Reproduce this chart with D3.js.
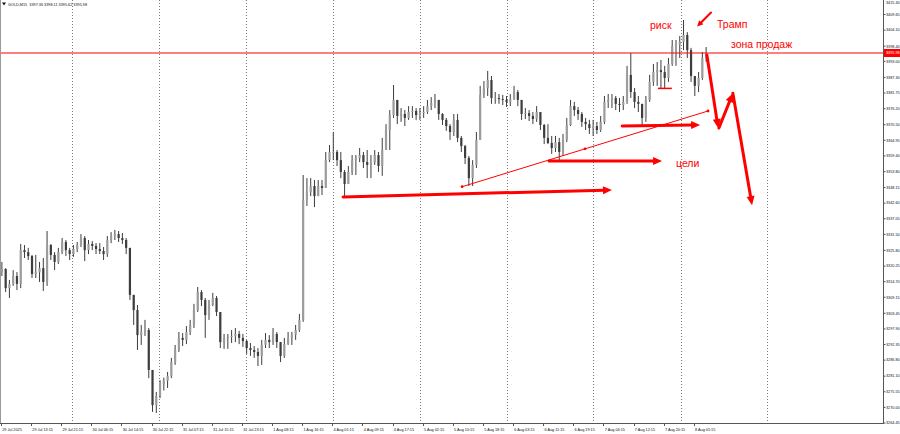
<!DOCTYPE html>
<html><head><meta charset="utf-8">
<script src="https://cdn.jsdelivr.net/npm/d3@7"></script>
<style>
html,body{margin:0;padding:0;background:#fff;}
svg{display:block;font-family:"Liberation Sans",Arial,sans-serif;}
</style></head><body>
<svg id="c" width="900" height="434"></svg>
<script>
// ---------- DATA ----------
const symbolHeader = "GOLD,M15  3397.36 3398.11 3395.62 3395.98";
const bidPrice = 3395.98;
const firstOpen = 3318.0;
const closes = [
3319.2,3312.4,3313.9,3316.7,3313.9,3325.9,3325.2,3323.8,3317.4,3318.0,
3319.5,3314.6,3327.7,3324.2,3321.7,3325.2,3328.8,3325.9,3324.5,3326.3,
3327.7,3330.2,3325.9,3328.1,3327.4,3326.3,3325.6,
3324.5,3329.5,3330.9,3331.6,3330.2,3329.5,3326.7,3310.0,3304.6,3295.7,
3296.8,3297.5,3283.3,3270.8,3274.0,3278.3,3279.5,
3281.2,3286.1,3290.4,3294.7,3294.0,3296.8,3299.3,3304.6,3311.0,3308.2,
3302.8,3306.4,3308.9,3303.9,3293.2,3294.7,3295.0,
3295.4,3296.1,3294.7,3293.6,3291.1,3290.4,3289.7,3288.3,3292.2,3294.0,
3293.2,3296.1,3293.2,3288.3,3292.5,3294.7,3295.8,
3297.5,3301.1,3343.7,3346.6,3348.7,3345.1,3348.7,3348.0,3357.9,3360.8,
3360.8,3357.9,3353.7,3349.4,3353.7,3357.9,3358.6,
3359.7,3357.2,3356.2,3357.2,3359.7,3355.8,3361.5,3368.6,3373.9,3379.3,
3373.6,3374.3,3372.9,3375.0,3375.4,3373.9,3374.6,
3375.0,3377.1,3378.2,3379.3,3374.3,3372.2,3370.0,3367.9,3372.2,3365.8,
3362.9,3358.7,3351.5,3356.2,3365.1,3381.1,3383.5,
3386.4,3380.0,3380.0,3379.6,3379.3,3378.6,3379.6,3382.1,3379.3,3374.3,
3374.6,3373.6,3372.5,3375.0,3370.4,3365.8,3364.0,
3362.2,3364.3,3360.8,3365.1,3370.4,3377.1,3375.7,3374.3,3371.5,3370.7,
3369.3,3370.0,3368.6,3371.5,3378.6,3379.3,3380.0,
3377.9,3377.5,3378.6,3388.2,3382.1,3378.6,3377.9,3372.9,3379.3,3385.7,
3389.2,3389.9,3389.2,3387.1,3392.1,3398.5,3399.0,
3399.9,3402.4,3397.0,3387.8,3384.3,3387.1,3394.2,3396.0];
const highs = [
3321.7,3319.5,3315.3,3318.8,3318.1,3328.1,3327.7,3326.7,3324.2,3324.2,
3321.7,3323.1,3332.7,3328.1,3325.2,3326.7,3330.2,3329.5,3326.7,3327.7,
3328.8,3331.6,3330.9,3329.5,3329.1,3328.4,3328.4,
3327.0,3330.9,3332.3,3333.1,3332.7,3332.0,3330.2,3325.9,3309.6,3306.4,
3299.3,3301.1,3298.2,3283.3,3275.5,3279.7,3280.6,
3282.6,3287.6,3292.2,3296.8,3296.4,3298.9,3301.1,3306.8,3312.8,3311.7,
3308.9,3308.2,3310.7,3309.6,3303.9,3296.1,3296.1,
3297.5,3298.2,3297.2,3296.1,3294.0,3292.9,3291.8,3291.1,3294.0,3296.4,
3295.7,3298.2,3296.8,3292.5,3294.7,3296.8,3296.8,
3299.3,3303.2,3352.6,3351.5,3351.5,3350.8,3350.8,3350.8,3360.8,3363.3,
3367.9,3361.5,3360.8,3354.4,3355.8,3359.7,3359.7,
3362.2,3360.8,3361.5,3359.7,3361.5,3360.8,3365.8,3370.7,3375.7,3384.6,
3379.3,3376.4,3375.7,3377.1,3377.1,3376.4,3376.4,
3377.1,3379.3,3380.3,3381.4,3379.3,3374.6,3372.9,3370.7,3374.3,3374.3,
3366.5,3363.3,3359.4,3357.9,3367.9,3384.3,3386.0,
3389.6,3387.8,3382.1,3381.4,3381.1,3380.7,3381.4,3384.3,3382.8,3379.3,
3376.4,3375.7,3375.0,3377.1,3375.0,3370.7,3370.7,
3366.5,3366.5,3365.8,3367.2,3372.9,3379.3,3378.6,3376.8,3375.0,3372.9,
3372.2,3372.2,3371.5,3373.6,3380.7,3381.4,3381.4,
3380.7,3380.0,3380.7,3391.4,3396.0,3383.5,3380.7,3377.9,3380.7,3388.2,
3392.1,3392.8,3393.5,3391.4,3394.2,3400.6,3400.6,
3402.0,3407.7,3403.4,3397.8,3387.8,3389.2,3396.3,3398.1];
const lows = [
3316.7,3311.0,3308.9,3313.2,3311.7,3312.4,3323.1,3322.4,3316.0,3316.0,
3314.6,3311.4,3313.2,3322.4,3318.8,3321.0,3324.5,3323.8,3322.4,3323.5,
3325.2,3327.0,3322.0,3324.5,3325.9,3324.5,3324.5,
3322.4,3323.5,3328.4,3329.5,3328.8,3328.1,3324.5,3308.2,3299.3,3290.4,
3292.2,3295.4,3280.4,3268.4,3268.0,3273.3,3276.0,
3276.9,3280.4,3285.1,3289.7,3291.8,3292.5,3295.7,3298.2,3303.9,3306.0,
3294.7,3301.1,3306.0,3302.5,3291.1,3290.8,3290.8,
3292.9,3293.2,3292.5,3291.5,3289.0,3288.3,3287.6,3284.7,3285.1,3291.1,
3291.1,3292.2,3291.1,3286.1,3287.6,3292.2,3292.2,
3294.0,3296.8,3300.4,3341.6,3345.1,3341.2,3345.1,3345.5,3348.0,3357.2,
3357.9,3355.8,3351.5,3345.1,3349.4,3352.6,3352.6,
3357.2,3355.1,3351.5,3351.5,3356.2,3353.7,3352.3,3361.5,3361.5,3372.9,
3370.7,3371.5,3370.0,3372.2,3372.9,3372.2,3372.2,
3372.9,3374.3,3375.7,3376.4,3372.2,3370.4,3368.3,3365.1,3366.5,3364.3,
3360.8,3356.5,3348.7,3348.7,3355.1,3365.1,3380.0,
3380.7,3377.9,3377.9,3377.9,3377.5,3376.8,3377.1,3379.3,3377.1,3372.2,
3372.5,3371.8,3370.7,3371.5,3368.6,3363.6,3363.6,
3360.1,3360.8,3357.9,3359.4,3364.3,3370.0,3373.6,3372.2,3369.7,3368.6,
3367.2,3366.5,3367.2,3367.9,3370.7,3376.4,3376.4,
3375.7,3375.0,3375.7,3377.9,3380.0,3376.4,3375.0,3370.4,3371.5,3378.6,
3384.3,3384.3,3383.5,3383.5,3385.7,3391.4,3391.4,
3394.2,3397.0,3394.2,3385.7,3380.7,3382.1,3386.4,3392.8];
const priceTicks = [3415.30,3409.65,3404.10,3398.40,3393.00,3387.30,3381.75,3376.20,3370.50,3364.95,3359.40,3353.80,3348.15,3342.60,3337.05,3331.50,3325.80,3320.25,3314.70,3309.15,3303.45,3297.90,3292.35,3286.80,3281.10,3275.55,3270.00,3264.45];
const timeLabels = ["29 Jul 2025","29 Jul 13:15","29 Jul 21:15","30 Jul 06:15","30 Jul 14:15","30 Jul 22:15","31 Jul 07:15","31 Jul 15:15","31 Jul 23:15","1 Aug 08:15","1 Aug 16:15","4 Aug 01:15","4 Aug 09:15","4 Aug 17:15","5 Aug 02:15","5 Aug 10:15","5 Aug 18:15","6 Aug 03:15","6 Aug 11:15","6 Aug 19:15","7 Aug 04:15","7 Aug 12:15","7 Aug 20:15","8 Aug 05:15"];
const barsPerLabel = 8;
const daySeparators = [19.1,42.2,65.3,88.4,111.5,134.6,157.5,180.8,203.7];
// annotations in (bar index, price)
const arrows = [
  {b0:91.1, p0:3344.8, b1:162.5, p1:3347.3, w:3},
  {b0:145.8,p0:3357.6, b1:175.8, p1:3357.6, w:3},
  {b0:165.2,p0:3370.0, b1:185.9, p1:3370.4, w:3},
  {b0:187.7,p0:3395.3, b1:190.7, p1:3369.3, w:3},
  {b0:190.9,p0:3369.3, b1:194.6, p1:3381.7, w:3},
  {b0:194.6,p0:3381.7, b1:199.7, p1:3341.9, w:3},
  {b0:188.8,p0:3410.4, b1:185.1, p1:3405.4, w:2}
];
const trendLine = {b0:122.7, p0:3348.45, b1:188.0, p1:3375.36};
const shortLine = {b0:174.7, p0:3383.4, b1:178.4, p1:3383.4};
const notes = [
  {t:"риск", b:172.6, p:3404.5},
  {t:"Трамп", b:190.4, p:3404.9},
  {t:"зона продаж", b:194.1, p:3397.6},
  {t:"цели", b:179.5, p:3355.45}
];

// ---------- DRAW ----------
const svg = d3.select('#c');
const plotRight = 883, plotBottom = 423;
const x = d3.scaleLinear().domain([0,235]).range([0,885]);
const y = d3.scaleLinear().domain([3264.45, bidPrice]).range([423,53]);
const RED = '#ff0000';
const INK = '#3d3d3d';

svg.append('defs').append('clipPath').attr('id','pc').append('rect')
  .attr('x',0).attr('y',0).attr('width',plotRight).attr('height',plotBottom);
const plot = svg.append('g').attr('clip-path','url(#pc)');

// day separators
plot.selectAll('line.grid').data(daySeparators).join('line').attr('class','grid')
  .attr('x1',d=>Math.round(x(d))+0.5).attr('x2',d=>Math.round(x(d))+0.5)
  .attr('y1',0).attr('y2',plotBottom)
  .attr('stroke','#7a7a7a').attr('stroke-width',1).attr('stroke-dasharray','1,2');

// candles
const bars = closes.map((c,i)=>{
  const o = i ? closes[i-1] : firstOpen;
  return {i,o,c,h:Math.max(highs[i],o,c),l:Math.min(lows[i],o,c)};
});
const bw = x(1)-x(0);
plot.selectAll('line.wick').data(bars).join('line').attr('class','wick')
  .attr('x1',d=>x(d.i+0.5)).attr('x2',d=>x(d.i+0.5))
  .attr('y1',d=>y(d.h)).attr('y2',d=>y(d.l))
  .attr('stroke',INK).attr('stroke-width',1);
plot.selectAll('rect.body').data(bars).join('rect').attr('class','body')
  .attr('x',d=>x(d.i+0.5)-1.1).attr('width',2.2)
  .attr('y',d=>y(Math.max(d.o,d.c)))
  .attr('height',d=>Math.max(0.8,Math.abs(y(d.o)-y(d.c))))
  .attr('fill',d=>d.c>=d.o?'#9c9c9c':INK);

// bid line
plot.append('line').attr('x1',0).attr('x2',plotRight)
  .attr('y1',y(bidPrice)).attr('y2',y(bidPrice)).attr('stroke',RED).attr('stroke-width',1.2);

// trend line (thin)
const tl = [[x(trendLine.b0),y(trendLine.p0)],[x(trendLine.b1),y(trendLine.p1)]];
plot.append('line').attr('x1',tl[0][0]).attr('y1',tl[0][1]).attr('x2',tl[1][0]).attr('y2',tl[1][1])
  .attr('stroke',RED).attr('stroke-width',1);
plot.selectAll('circle.anch').data([0,0.5,1]).join('circle').attr('class','anch')
  .attr('cx',t=>tl[0][0]+(tl[1][0]-tl[0][0])*t).attr('cy',t=>tl[0][1]+(tl[1][1]-tl[0][1])*t)
  .attr('r',1.4).attr('fill',RED);
plot.append('line').attr('x1',x(shortLine.b0)).attr('x2',x(shortLine.b1))
  .attr('y1',y(shortLine.p0)).attr('y2',y(shortLine.p1)).attr('stroke',RED).attr('stroke-width',1.5);

// arrows
arrows.forEach(a=>{
  const x0=x(a.b0),y0=y(a.p0),x1=x(a.b1),y1=y(a.p1);
  const dx=x1-x0, dy=y1-y0, len=Math.hypot(dx,dy), ux=dx/len, uy=dy/len;
  const L = a.w>2?9:6, hw = a.w>2?4:3;
  const bx=x1-ux*L, by=y1-uy*L;
  plot.append('line').attr('x1',x0).attr('y1',y0).attr('x2',bx+ux*1).attr('y2',by+uy*1)
    .attr('stroke',RED).attr('stroke-width',a.w).attr('stroke-linecap','round');
  plot.append('polygon')
    .attr('points',[[x1,y1],[bx-uy*hw,by+ux*hw],[bx+uy*hw,by-ux*hw]].map(p=>p.join(',')).join(' '))
    .attr('fill',RED);
});

// notes
plot.selectAll('text.note').data(notes).join('text').attr('class','note')
  .attr('x',d=>x(d.b)).attr('y',d=>y(d.p)).text(d=>d.t)
  .attr('fill',RED).attr('font-size',10.5);

// frame
svg.append('line').attr('x1',0.5).attr('x2',0.5).attr('y1',0).attr('y2',plotBottom).attr('stroke','#9a9a9a');
svg.append('line').attr('x1',plotRight+0.5).attr('x2',plotRight+0.5).attr('y1',0).attr('y2',plotBottom+0.5).attr('stroke','#555');
svg.append('line').attr('x1',0).attr('x2',plotRight+1).attr('y1',plotBottom+0.5).attr('y2',plotBottom+0.5).attr('stroke','#555');

// price axis
const AX_FS = 3.8;
const pa = svg.append('g');
pa.selectAll('line').data(priceTicks).join('line')
  .attr('x1',plotRight).attr('x2',plotRight+2.5).attr('y1',d=>y(d)).attr('y2',d=>y(d)).attr('stroke','#555');
pa.selectAll('text').data(priceTicks).join('text')
  .attr('x',plotRight+3).attr('y',d=>Math.max(2.6,y(d))).attr('dy','0.35em')
  .attr('font-size',AX_FS).attr('fill','#111').text(d=>d.toFixed(2));
pa.append('rect').attr('x',plotRight+1).attr('y',y(bidPrice)-4).attr('width',900-plotRight-1).attr('height',8).attr('fill',RED);
pa.append('text').attr('x',plotRight+3).attr('y',y(bidPrice)).attr('dy','0.35em')
  .attr('font-size',AX_FS).attr('fill','#fff').text(bidPrice.toFixed(2));

// time axis
const ta = svg.append('g');
const tk = timeLabels.map((t,k)=>({t, b:k*barsPerLabel+0.25}));
ta.selectAll('line').data(tk).join('line')
  .attr('x1',d=>Math.round(x(d.b))+0.5).attr('x2',d=>Math.round(x(d.b))+0.5)
  .attr('y1',plotBottom).attr('y2',plotBottom+3).attr('stroke','#555');
ta.selectAll('text').data(tk).join('text')
  .attr('x',d=>x(d.b)+1.2).attr('y',plotBottom+7.5)
  .attr('font-size',AX_FS).attr('fill','#111').text(d=>d.t);

// header
svg.append('path').attr('d','M2,2.5 L6,2.5 L4,5.5 Z').attr('fill','#111');
svg.append('text').attr('x',8).attr('y',5.5).attr('font-size',AX_FS).attr('fill','#111')
  .attr('xml:space','preserve').style('white-space','pre').text(symbolHeader);
</script>
</body></html>
